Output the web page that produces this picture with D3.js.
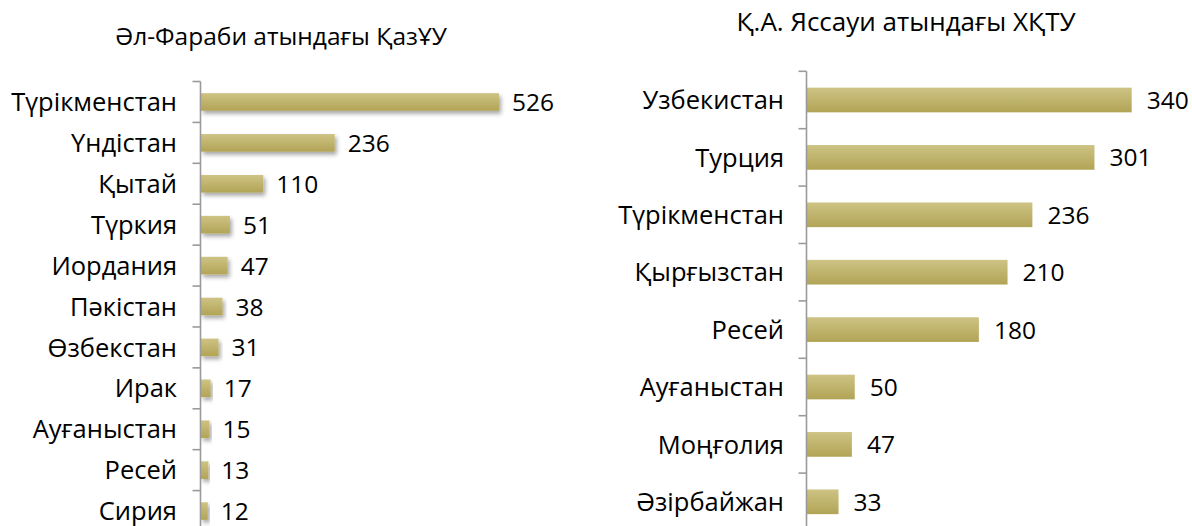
<!DOCTYPE html>
<html>
<head>
<meta charset="utf-8">
<script src="https://cdn.jsdelivr.net/npm/d3@7"></script>
<style>
  html, body { margin: 0; padding: 0; background: #fff; }
  svg { display: block; }
  text { font-family: "Open Sans", "Noto Sans", sans-serif; fill: #000; }
</style>
</head>
<body>
<svg id="chart" width="1192" height="526"></svg>
<script>
// ---- data ----
const leftTitle = "Әл-Фараби атындағы ҚазҰУ";
const leftCategories = ["Түрікменстан","Үндістан","Қытай","Түркия","Иордания","Пәкістан","Өзбекстан","Ирак","Ауғаныстан","Ресей","Сирия"];
const leftValues = [526,236,110,51,47,38,31,17,15,13,12];

const rightTitle = "Қ.А. Яссауи атындағы ХҚТУ";
const rightCategories = ["Узбекистан","Турция","Түрікменстан","Қырғызстан","Ресей","Ауғаныстан","Моңғолия","Әзірбайжан"];
const rightValues = [340,301,236,210,180,50,47,33];

const svg = d3.select("#chart");
const defs = svg.append("defs");
const grad = defs.append("linearGradient").attr("id","barGrad")
  .attr("x1",0).attr("y1",0).attr("x2",0).attr("y2",1);
grad.append("stop").attr("offset","0%").attr("stop-color","#cdc384");
grad.append("stop").attr("offset","100%").attr("stop-color","#b2a456");
const shadow = defs.append("filter").attr("id","shadow")
  .attr("x","-10%").attr("y","-50%").attr("width","130%").attr("height","220%");
shadow.append("feDropShadow").attr("dx",2).attr("dy",3).attr("stdDeviation",2)
  .attr("flood-color","#000").attr("flood-opacity",0.35);

function drawChart(cfg) {
  const g = svg.append("g");
  const x = d3.scaleLinear().domain([0, cfg.max]).range([cfg.x0, cfg.x1]);
  const y = d3.scaleBand().domain(cfg.cats).range([cfg.y0, cfg.y1])
    .paddingInner(cfg.pad).paddingOuter(cfg.pad / 2);
  const step = y.step();
  const data = cfg.cats.map((c, i) => ({c, v: cfg.vals[i]}));

  // title
  g.append("text").attr("x", cfg.titleX).attr("y", cfg.titleY)
    .attr("text-anchor","middle").style("font-size", cfg.titleSize + "px")
    .text(cfg.title);

  // bars
  g.selectAll("rect.bar").data(data).join("rect")
    .attr("class","bar")
    .attr("x", x(0))
    .attr("y", d => y(d.c))
    .attr("width", d => x(d.v) - x(0))
    .attr("height", y.bandwidth())
    .attr("fill","url(#barGrad)")
    .attr("filter", cfg.shadow ? "url(#shadow)" : null);

  // axis line and boundary ticks
  const ax = g.append("g").attr("stroke","#9a9a9a").attr("stroke-width",1.6);
  ax.append("line").attr("x1", x(0) - 0.5).attr("x2", x(0) - 0.5)
    .attr("y1", cfg.y0).attr("y2", cfg.y1);
  const bounds = d3.range(cfg.cats.length + 1).map(i => cfg.y0 + i * step);
  ax.selectAll("line.tick").data(bounds).join("line")
    .attr("class","tick")
    .attr("x1", x(0) - 8.5).attr("x2", x(0) - 0.5)
    .attr("y1", d => d).attr("y2", d => d);

  // category labels
  g.selectAll("text.cat").data(data).join("text")
    .attr("class","cat")
    .attr("x", x(0) - cfg.labelGap)
    .attr("y", d => y(d.c) + y.bandwidth() / 2)
    .attr("dy","0.36em")
    .attr("text-anchor","end")
    .style("font-size", cfg.fontSize + "px")
    .text(d => d.c);

  // value labels
  g.selectAll("text.val").data(data).join("text")
    .attr("class","val")
    .attr("x", d => x(d.v) + cfg.valGap)
    .attr("y", d => y(d.c) + y.bandwidth() / 2)
    .attr("dy","0.37em")
    .style("font-size", cfg.valSize + "px")
    .text(d => d.v);
}

drawChart({
  title: leftTitle, cats: leftCategories, vals: leftValues,
  max: 526, x0: 201, x1: 499, y0: 81.5, y1: 531.5, pad: 0.57,
  titleX: 281, titleY: 45, titleSize: 24.5, fontSize: 25.5, valSize: 24.5,
  labelGap: 24, valGap: 13, shadow: true
});
drawChart({
  title: rightTitle, cats: rightCategories, vals: rightValues,
  max: 340, x0: 807, x1: 1131.7, y0: 71.3, y1: 530.5, pad: 0.57,
  titleX: 906, titleY: 31, titleSize: 26, fontSize: 25.5, valSize: 24.5,
  labelGap: 23, valGap: 15, shadow: false
});
</script>
</body>
</html>
